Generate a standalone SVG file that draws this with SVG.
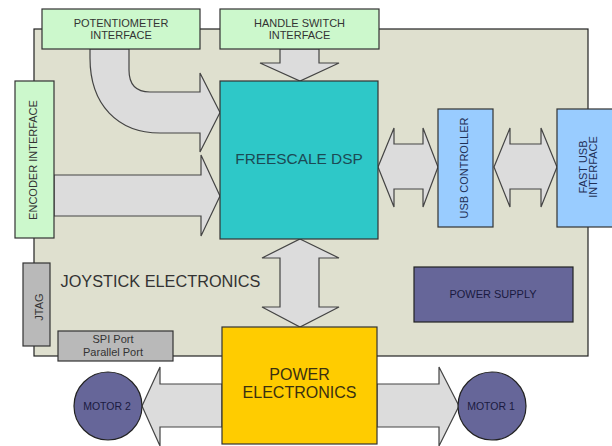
<svg xmlns="http://www.w3.org/2000/svg" width="612" height="446" viewBox="0 0 612 446">
<style>
text{font-family:"Liberation Sans",Arial,Helvetica,sans-serif;text-anchor:middle}
.arr{fill:#dcdcdc;stroke:#444;stroke-width:1.2;stroke-linejoin:miter}
.green{fill:#ccf8cc;stroke:#333;stroke-width:1.2}
.gray{fill:#b9b9b9;stroke:#333;stroke-width:1.2}
.blue{fill:#99ccff;stroke:#333;stroke-width:1.2}
.slate{fill:#666699;stroke:#222;stroke-width:1.2}
.t11{font-size:11px;fill:#333}
.tb{font-size:11px;fill:#1f2f55}
.big{font-size:16px}
</style>
<rect width="612" height="446" fill="#fff"/>
<g id="panel">
<rect x="34" y="29" width="554" height="327" fill="#dfe0cf" stroke="#222" stroke-width="1.2"/>
<text x="160.5" y="287" font-size="16.3" fill="#333">JOYSTICK ELECTRONICS</text>
</g>
<g id="connectors">
<path class="arr" d="M90,49 V58 C90,105 118,133 160,133 H200 V152 L220,112.5 L200,73 V92 H150 Q129,92 129,70 V49 Z"/>
<path class="arr" d="M54,175 H201 V155 L220,196 L201,236 V216 H54 Z"/>
<path class="arr" d="M280,49 V63 H260 L300,81 L339,63 H319 V49 Z"/>
<path class="arr" d="M378,167 L394,128 V144 H423 V128 L438,167 L423,207 V189 H394 V207 Z"/>
<path class="arr" d="M494,167 L510,128 V144 H541 V128 L557,167 L541,207 V189 H510 V207 Z"/>
<path class="arr" d="M300,239 L339,258 H319 V307 H339 L300,327 L262,307 H280 V258 H262 Z"/>
<path class="arr" d="M222,384 H160 V367 L142,406 L160,446 V427 H222 Z"/>
<path class="arr" d="M377,384 H439 V367 L459,406 L439,446 V427 H377 Z"/>
</g>
<g id="potentiometer">
<rect class="green" x="42" y="9" width="158" height="40"/>
<text class="t11" x="121" y="26.5">POTENTIOMETER</text>
<text class="t11" x="121" y="39">INTERFACE</text>
</g>
<g id="handle-switch">
<rect class="green" x="220" y="9" width="159" height="40"/>
<text class="t11" x="299.5" y="26.5">HANDLE SWITCH</text>
<text class="t11" x="299.5" y="39">INTERFACE</text>
</g>
<g id="encoder">
<rect class="green" x="15" y="81" width="39" height="157"/>
<text class="t11" transform="translate(37,160) rotate(-90)">ENCODER INTERFACE</text>
</g>
<g id="dsp">
<rect x="220" y="81" width="158" height="158" fill="#2ec8c8" stroke="#333" stroke-width="1.2"/>
<text x="299" y="164" font-size="15.4" fill="#1c4a55">FREESCALE DSP</text>
</g>
<g id="usb-controller">
<rect class="blue" x="438" y="109" width="55" height="118"/>
<text class="tb" transform="translate(468,168) rotate(-90)">USB CONTROLLER</text>
</g>
<g id="fast-usb">
<rect class="blue" x="557" y="109" width="60" height="118"/>
<text class="tb" transform="translate(586.5,167) rotate(-90)">FAST USB</text>
<text class="tb" transform="translate(597,167) rotate(-90)">INTERFACE</text>
</g>
<g id="jtag">
<rect class="gray" x="23" y="263" width="27" height="83"/>
<text class="t11" font-size="10.5" transform="translate(43,307) rotate(-90)">JTAG</text>
</g>
<g id="spi">
<rect class="gray" x="58" y="331" width="115" height="30"/>
<text class="t11" x="113" y="342.5">SPI Port</text>
<text class="t11" x="113" y="356">Parallel Port</text>
</g>
<g id="power-supply">
<rect class="slate" x="414" y="267" width="159" height="55"/>
<text x="493" y="298" font-size="11" fill="#1a1a40">POWER SUPPLY</text>
</g>
<g id="power-electronics">
<rect x="222" y="327" width="155" height="117" fill="#ffcc00" stroke="#333" stroke-width="1.2"/>
<text class="big" x="299.5" y="379.5" fill="#3a3010">POWER</text>
<text class="big" x="299.5" y="398" fill="#3a3010">ELECTRONICS</text>
</g>
<g id="motor2">
<circle class="slate" cx="108" cy="406" r="34"/>
<text x="107" y="410" font-size="10.5" fill="#1a1a40">MOTOR 2</text>
</g>
<g id="motor1">
<circle class="slate" cx="492" cy="406" r="34"/>
<text x="491" y="410" font-size="10.5" fill="#1a1a40">MOTOR 1</text>
</g>
</svg>
